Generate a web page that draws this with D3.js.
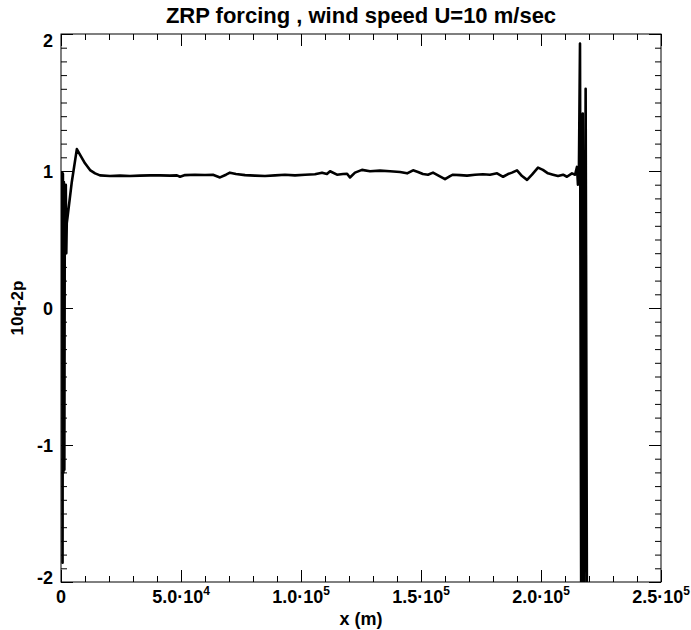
<!DOCTYPE html>
<html>
<head>
<meta charset="utf-8">
<script src="https://cdn.jsdelivr.net/npm/d3@7"></script>
<style>
  html, body { margin: 0; padding: 0; background: #fff; }
  svg text { font-family: "Liberation Sans", Arial, Helvetica, sans-serif; font-weight: bold; fill: #000; }
</style>
</head>
<body>
<svg id="chart" width="691" height="630"></svg>
<script>
// ---------------- data ----------------
const title = "ZRP forcing , wind speed U=10 m/sec";
const xLabel = "x (m)";
const yLabel = "10q-2p";

const xMajorTicks = [0, 50000, 100000, 150000, 200000, 250000];
const xTickMantissa = ["0", "5.0·10", "1.0·10", "1.5·10", "2.0·10", "2.5·10"];
const xTickExponent = ["", "4", "5", "5", "5", "5"];
const yMajorTicks = [-2, -1, 0, 1, 2];
const yTickLabels = ["-2", "-1", "0", "1", "2"];

// series: x position (m)
const xs = [
  500, 650, 800, 1000, 1200, 1400, 1600, 1800, 2000, 2200, 2400, 2700,
  4500, 6600, 7900, 10000, 12100, 14200, 16250,
  20400, 24600, 28750, 32900, 37100, 41250, 45400, 48300, 49600, 51700,
  55800, 60000, 63300, 66250, 68750, 70400, 72900, 76700, 80800, 85000,
  89200, 93300, 97500, 101700, 105800, 108750, 110800, 112100, 115000, 117500,
  119200, 120400, 122500, 125400, 128750, 132900, 137100, 141250, 144200, 146700,
  148750, 150800, 152900, 155000, 157100, 160000, 162100, 163300, 166250, 169200,
  172500, 175800, 178750, 181700, 184200, 186250, 187900, 190000, 192100, 194200,
  196250, 198750, 200800, 202900, 205000, 207100, 209200, 210800, 212900, 214200,
  215000, 215400, 215800, 216250, 216800, 217400, 217900, 218600, 219200
];
// series: 10q-2p
const ys = [
  1.00, -1.86, 0.98, -1.20, 0.92, -1.18, 0.90, 0.40, 0.90, 0.40, 0.62, 0.66,
  0.92, 1.16, 1.12, 1.056, 1.007, 0.983, 0.968,
  0.963, 0.966, 0.963, 0.966, 0.968, 0.968, 0.966, 0.968, 0.958, 0.970,
  0.973, 0.971, 0.973, 0.953, 0.973, 0.988, 0.978, 0.970, 0.966, 0.963,
  0.968, 0.973, 0.968, 0.973, 0.976, 0.988, 0.978, 0.998, 0.973, 0.978,
  0.980, 0.953, 0.988, 1.008, 0.998, 1.003, 0.998, 0.993, 0.983, 1.005,
  0.993, 0.978, 0.973, 0.988, 0.968, 0.940, 0.963, 0.973, 0.970, 0.966,
  0.973, 0.976, 0.973, 0.983, 0.958, 0.978, 0.988, 1.005, 0.963, 0.935,
  0.973, 1.025, 1.008, 0.983, 0.973, 0.963, 0.973, 0.958, 0.983, 0.973,
  1.030, 0.900, 1.000, 1.930, -2.600, 1.420, -2.600, 1.600, -2.600
];

// ---------------- layout ----------------
const svg = d3.select("#chart");
const L = 61, R = 661, T = 34, B = 582;

const x = d3.scaleLinear().domain([0, 250000]).range([L, R]);
const y = d3.scaleLinear().domain([-2, 2]).range([B, T]);

const xMinor = d3.range(0, 250001, 10000).filter(v => v % 50000 !== 0);
const yMinor = d3.range(-20, 21).map(v => v / 10).filter(v => Math.abs(v - Math.round(v)) > 1e-9);

function styleAxis(g) {
  g.select(".domain").remove();
  g.selectAll("line").attr("stroke", "#000").attr("stroke-width", 1);
  g.selectAll("text").remove();
}

// frame
svg.append("rect").attr("x", L).attr("y", T).attr("width", R - L).attr("height", B - T)
  .attr("fill", "none").attr("stroke", "#000").attr("stroke-width", 1);

// bottom axis: major + minor (inward)
svg.append("g").attr("transform", `translate(0,${B})`)
  .call(d3.axisBottom(x).tickValues(xMajorTicks).tickSize(-12).tickFormat(""))
  .call(styleAxis);
svg.append("g").attr("transform", `translate(0,${B})`)
  .call(d3.axisBottom(x).tickValues(xMinor).tickSize(-6).tickFormat(""))
  .call(styleAxis);
// top axis
svg.append("g").attr("transform", `translate(0,${T})`)
  .call(d3.axisTop(x).tickValues(xMajorTicks).tickSize(-12).tickFormat(""))
  .call(styleAxis);
svg.append("g").attr("transform", `translate(0,${T})`)
  .call(d3.axisTop(x).tickValues(xMinor).tickSize(-6).tickFormat(""))
  .call(styleAxis);
// left axis
svg.append("g").attr("transform", `translate(${L},0)`)
  .call(d3.axisLeft(y).tickValues(yMajorTicks).tickSize(-12).tickFormat(""))
  .call(styleAxis);
svg.append("g").attr("transform", `translate(${L},0)`)
  .call(d3.axisLeft(y).tickValues(yMinor).tickSize(-6).tickFormat(""))
  .call(styleAxis);
// right axis
svg.append("g").attr("transform", `translate(${R},0)`)
  .call(d3.axisRight(y).tickValues(yMajorTicks).tickSize(-12).tickFormat(""))
  .call(styleAxis);
svg.append("g").attr("transform", `translate(${R},0)`)
  .call(d3.axisRight(y).tickValues(yMinor).tickSize(-6).tickFormat(""))
  .call(styleAxis);

// x tick labels
const xl = svg.append("g").selectAll("text").data(xMajorTicks).join("text")
  .attr("x", d => x(d)).attr("y", 603)
  .attr("text-anchor", "middle").attr("font-size", 18);
xl.append("tspan").text((d, i) => xTickMantissa[i]);
xl.append("tspan").attr("dy", -8).attr("font-size", 12).text((d, i) => xTickExponent[i]);

// y tick labels
svg.append("g").selectAll("text").data(yMajorTicks).join("text")
  .attr("x", 53)
  .attr("y", d => y(d) + 6.5 + (d === 2 ? 6 : d === -2 ? -5 : 0))
  .attr("text-anchor", "end").attr("font-size", 18)
  .text((d, i) => yTickLabels[i]);

// axis titles
svg.append("text").attr("x", (L + R) / 2).attr("y", 625).attr("text-anchor", "middle")
  .attr("font-size", 18).text(xLabel);
svg.append("text").attr("transform", `translate(23,${(T + B) / 2}) rotate(-90)`)
  .attr("text-anchor", "middle").attr("font-size", 17).text(yLabel);

// title
svg.append("text").attr("x", (L + R) / 2).attr("y", 23).attr("text-anchor", "middle")
  .attr("font-size", 22).text(title);

// clip + line
svg.append("clipPath").attr("id", "clip").append("rect")
  .attr("x", L).attr("y", T).attr("width", R - L).attr("height", B - T);

const pts = xs.map((v, i) => [v, ys[i]]);
svg.append("path").datum(pts)
  .attr("clip-path", "url(#clip)")
  .attr("fill", "none").attr("stroke", "#000").attr("stroke-width", 2.6)
  .attr("stroke-linejoin", "round")
  .attr("d", d3.line().x(d => x(d[0])).y(d => y(d[1])));
</script>
</body>
</html>
